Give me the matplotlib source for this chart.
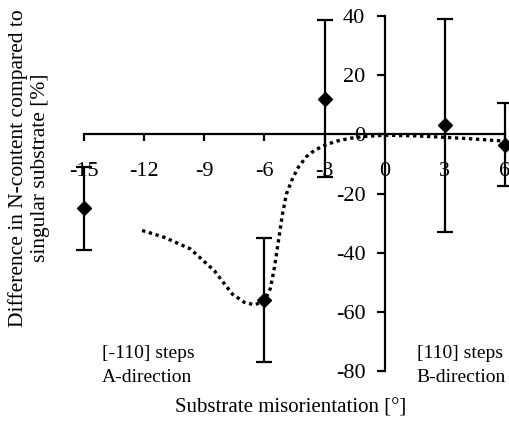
import numpy as np
import matplotlib.pyplot as plt

plt.rcParams['font.family'] = ['Liberation Serif', 'DejaVu Serif']
plt.rcParams['axes.unicode_minus'] = False

# measured points with error bars
x_pts = [-15, -6, -3, 3, 6]
y_pts = [-25, -56, 12, 3, -3.5]
y_err = [14, 21, 26.5, 36, 14]

# dotted trend curve
x_fit = [-12.1, -11.0, -9.7, -8.5, -7.6, -7.0, -6.5, -6.0, -5.7, -5.5, -5.3, -5.1, -4.9,
         -4.6, -4.3, -3.9, -3.5, -3.0, -2.4, -1.7, -1.0, 0.0, 1.5, 3.0, 4.5, 6.0]
y_fit = [-32.5, -34.8, -38.7, -46.1, -54.0, -56.8, -57.6, -56.5, -52.0, -45.0, -36.0, -27.0, -20.1,
         -15.0, -11.0, -7.5, -5.4, -3.7, -2.3, -1.3, -0.7, -0.3, -0.5, -1.0, -1.6, -2.3]

fig = plt.figure(figsize=(5.09, 4.24), dpi=100)
ax = fig.add_axes([84/509, 1-371/424, 421/509, 355/424])

ax.plot(x_fit, y_fit, color='black', linestyle=(0, (1, 1.1)), linewidth=2.4)
ax.errorbar(x_pts, y_pts, yerr=y_err, fmt='D', color='black', markersize=7,
            capsize=6, elinewidth=1.6, capthick=1.6, clip_on=False, zorder=3)

ax.set_xlim(-15, 6)
ax.set_ylim(-80, 40)
ax.spines['left'].set_position(('data', 0))
ax.spines['bottom'].set_position(('data', 0))
ax.spines['top'].set_visible(False)
ax.spines['right'].set_visible(False)
for s in ['left', 'bottom']:
    ax.spines[s].set_linewidth(1.6)
ax.set_xticks([-15, -12, -9, -6, -3, 0, 3, 6])
ax.set_yticks([40, 20, 0, -20, -40, -60, -80])
ax.tick_params(axis='x', direction='out', length=5, width=1.6, pad=15, labelsize=16)
ax.tick_params(axis='y', direction='out', length=6, width=1.6, pad=8, labelsize=16)

ax.text(-14.1, -78, '[-110] steps\nA-direction', fontsize=14, va='center', ha='left', linespacing=1.55)
ax.text(1.6, -78, '[110] steps\nB-direction', fontsize=14, va='center', ha='left', linespacing=1.55)

fig.text(291/509, 1-408/424, 'Substrate misorientation [°]', fontsize=15, ha='center', va='center')
fig.text(29/509, 1-168/424, 'Difference in N-content compared to\nsingular substrate [%]',
         fontsize=15.5, ha='center', va='center', rotation=90, multialignment='center')

fig.savefig('out.png', dpi=100)
